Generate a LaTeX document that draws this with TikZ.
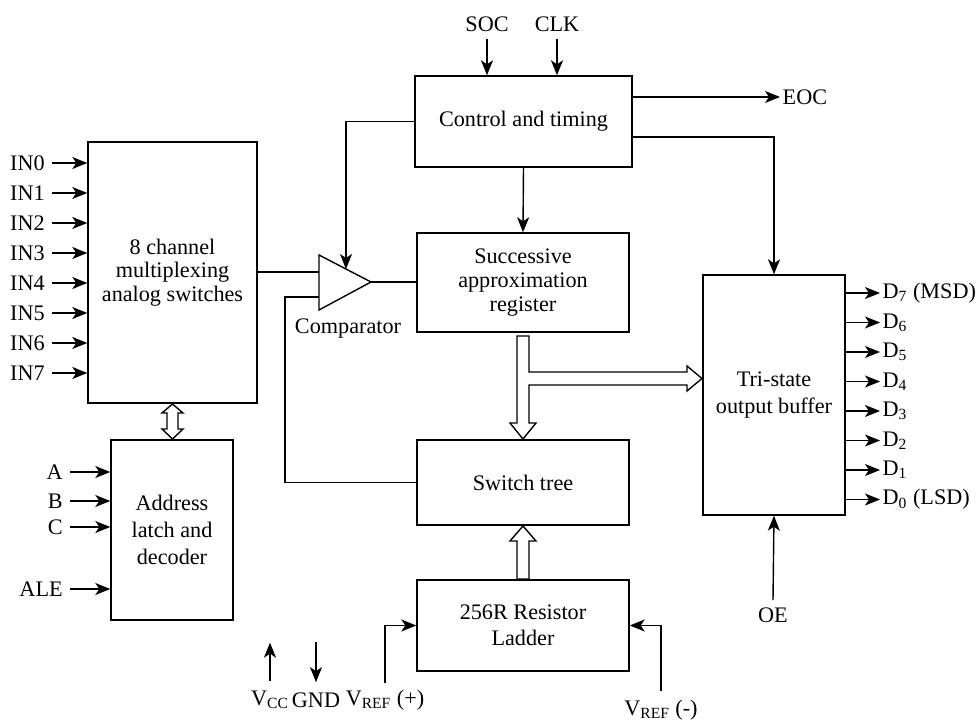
\documentclass[tikz,border=0pt]{standalone}
\usepackage{fontspec}
\setmainfont{Liberation Serif}
\usetikzlibrary{arrows.meta,calc}

\begin{document}
\begin{tikzpicture}[x=0.5pt,y=-0.5pt,>={Stealth[length=7.5pt,width=6pt,inset=2pt]},line width=0.7pt,
  every node/.style={font=\fontsize{11.1}{11.8}\selectfont},
  blk/.style={draw,align=center,inner sep=0pt},
  pinlbl/.style={inner sep=1pt},
  bus/.style={draw,fill=white,line join=miter}]
  \useasboundingbox (0,0) rectangle (976,722);
  % blocks
  \node[blk,minimum width=84.5pt,minimum height=130.5pt] (mux) at (172.5,272.5) {8 channel\\multiplexing\\analog switches};
  \node[blk,minimum width=61pt,minimum height=90pt,font=\fontsize{11.1}{13.6}\selectfont] (adl) at (172,530) {Address\\latch and\\decoder};
  \node[blk,minimum width=108.5pt,minimum height=45.5pt] (ctrl) at (523.5,121.5) {Control and timing};
  \node[blk,minimum width=106pt,minimum height=49.5pt] (sar) at (523,282.5) {Successive\\approximation\\register};
  \node[blk,minimum width=106pt,minimum height=42.5pt] (sw) at (523,482.5) {Switch tree};
  \node[blk,minimum width=106pt,minimum height=45.5pt,font=\fontsize{11.1}{13.2}\selectfont] (ladder) at (523,625.5) {256R Resistor\\Ladder};
  \node[blk,minimum width=71pt,minimum height=120pt,font=\fontsize{11.1}{13.2}\selectfont] (buf) at (774,395) {Tri-state\\output buffer};

  % comparator
  \draw (319,255) -- (371,282) -- (319,310) -- cycle;
  \coordinate (cin1) at (319,272);
  \coordinate (cin2) at (319,297);
  \coordinate (cout) at (371,282);
  \coordinate (cctl) at (346,269);
  \node (cmplbl) at (348,329) {Comparator};

  \draw (mux.east |- cin1) -- (cin1);
  \draw (cin2) -- ++(-34,0) |- (sw.west);
  \draw (cout) -- (cout -| sar.west);
  \draw[->] (ctrl.west) -| (cctl);
  \draw[->] (ctrl.south) -- (sar.north);
  \draw[->] ([yshift=-7.75pt]ctrl.east) -| (buf.north);

  % control inputs and EOC
  \node (soc) at (487,24) {SOC};
  \node (clk) at (557,24) {CLK};
  \draw[->] (soc.south) -- (soc |- ctrl.north);
  \draw[->] (clk.south) -- (clk |- ctrl.north);
  \node[pinlbl,anchor=west] (eoc) at (780,97) {EOC};
  \draw[->] (ctrl.east |- eoc) -- (eoc.west);

  % analog inputs
  \foreach \i in {0,...,7}{
    \node[anchor=east] (in\i) at (52,163+30*\i) {IN\i};
    \draw[->] (in\i.east) -- (in\i -| mux.west);
  }

  % address inputs
  \foreach \n/\t/\y in {a/A/472,b/B/501,c/C/527,ale/ALE/589}{
    \node[anchor=east] (\n) at (70,\y) {\t};
    \draw[->] (\n.east) -- (\n -| adl.west);
  }

  % digital outputs
  \foreach \i/\t in {7/ (MSD),6/,5/,4/,3/,2/,1/,0/ (LSD)}{
    \node[pinlbl,anchor=west] (d\i) at (880,293+29.5*7-29.5*\i) {D\textsubscript{\i}\t};
    \draw[->] (buf.east |- d\i) -- (d\i.west);
  }
  \node (oe) at (773,615) {OE};
  \draw[->] (oe.north) -- (buf.south);

  % supply and reference
  \node (vcc) at (270,700) {V\textsubscript{CC}};
  \node (gnd) at (316,700) {GND};
  \node (vrefp) at (385,700) {V\textsubscript{REF} (+)};
  \node (vrefm) at (661,710) {V\textsubscript{REF} (-)};
  \draw[->] (vcc.north) ++(0,-3) -- ++(0,-38);
  \draw[<-] (gnd.north) ++(0,-3) -- ++(0,-40);
  \draw[->] (vrefp.north) |- (ladder.west);
  \draw[->] (vrefm.north) ++(0,-2) |- (ladder.east);

  % buses
  \draw[bus] (517,336) -- (529,336) -- (529,372) -- (687,372) -- (687,366) -- (702,378.5)
    -- (687,391) -- (687,385) -- (529,385) -- (529,423) -- (536,423) -- (523,439)
    -- (510,423) -- (517,423) -- cycle;
  \draw[bus] (517,579) -- (517,541) -- (510,541) -- (523,526) -- (536,541) -- (529,541)
    -- (529,579) -- cycle;
  \draw[bus] (167,413) -- (162,413) -- (172.5,404) -- (183,413) -- (178,413) -- (178,429)
    -- (183,429) -- (172.5,439) -- (162,429) -- (167,429) -- cycle;
\end{tikzpicture}
\end{document}
